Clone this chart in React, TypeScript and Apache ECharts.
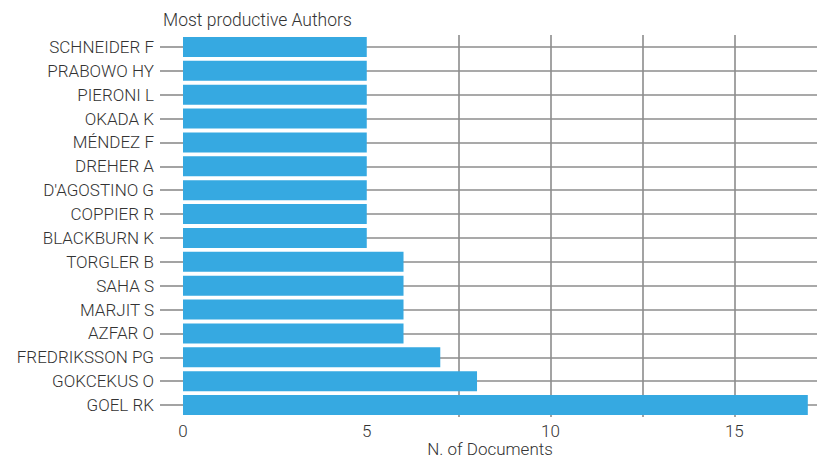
import React, { useEffect, useRef } from "react";
import * as echarts from "echarts";

const authors = [
  "GOEL RK",
  "GOKCEKUS O",
  "FREDRIKSSON PG",
  "AZFAR O",
  "MARJIT S",
  "SAHA S",
  "TORGLER B",
  "BLACKBURN K",
  "COPPIER R",
  "D'AGOSTINO G",
  "DREHER A",
  "MÉNDEZ F",
  "OKADA K",
  "PIERONI L",
  "PRABOWO HY",
  "SCHNEIDER F",
];
const documents = [17, 8, 7, 6, 6, 6, 6, 5, 5, 5, 5, 5, 5, 5, 5, 5];
const verticalGridValues = [7.5, 10, 12.5, 15];
const titleText = "Most productive Authors";
const xAxisTitle = "N. of Documents";

const FONT = "Roboto, 'Noto Sans', sans-serif";
const TEXT = "#333";
const LINE = "#8c8c8c";

export default function App() {
  const ref = useRef<HTMLDivElement>(null);
  useEffect(() => {
    document.body.style.margin = "0";
    if (!ref.current) return;
    const chart = echarts.init(ref.current, undefined, { renderer: "svg" });
    chart.setOption({
      animation: false,
      backgroundColor: "#fff",
      title: {
        text: titleText,
        left: 158,
        top: 6,
        textStyle: { fontFamily: FONT, fontSize: 17.5, fontWeight: 300, color: TEXT },
      },
      grid: {
        left: 183,
        right: 0,
        top: 35,
        bottom: 40,
        containLabel: false,
        outerBoundsMode: "none",
      },
      xAxis: {
        type: "value",
        min: 0,
        max: 17.25,
        interval: 5,
        axisLine: { show: false },
        axisTick: { show: false },
        splitLine: { show: false },
        axisLabel: {
          showMaxLabel: false,
          margin: 5,
          fontFamily: FONT,
          fontSize: 17,
          fontWeight: 300,
          color: TEXT,
        },
        name: xAxisTitle,
        nameLocation: "middle",
        nameGap: 23,
        nameMoveOverlap: false,
        nameTextStyle: {
          fontFamily: FONT,
          fontSize: 17,
          fontWeight: 300,
          color: TEXT,
          lineHeight: 17,
          padding: [0, 20, 0, 0],
        },
      },
      yAxis: {
        type: "category",
        data: authors,
        axisLine: { show: false },
        axisTick: {
          show: true,
          alignWithLabel: true,
          length: 23,
          lineStyle: { color: LINE, width: 1.6 },
        },
        splitLine: { show: false },
        axisLabel: {
          margin: 29,
          fontFamily: FONT,
          fontSize: 17,
          fontWeight: 300,
          color: TEXT,
        },
      },
      series: [
        {
          type: "bar",
          data: documents,
          barCategoryGap: "16%",
          z: 2,
          itemStyle: { color: "#36A9E1" },
          markLine: {
            z: 1,
            silent: true,
            symbol: "none",
            label: { show: false },
            lineStyle: { color: LINE, width: 1.6, type: "solid" },
            data: [
              ...verticalGridValues.map((v) => ({ xAxis: v })),
              ...authors.map((a) => ({ yAxis: a })),
            ],
          },
        },
      ],
    });
    return () => chart.dispose();
  }, []);
  return <div ref={ref} style={{ width: 817, height: 457 }} />;
}
